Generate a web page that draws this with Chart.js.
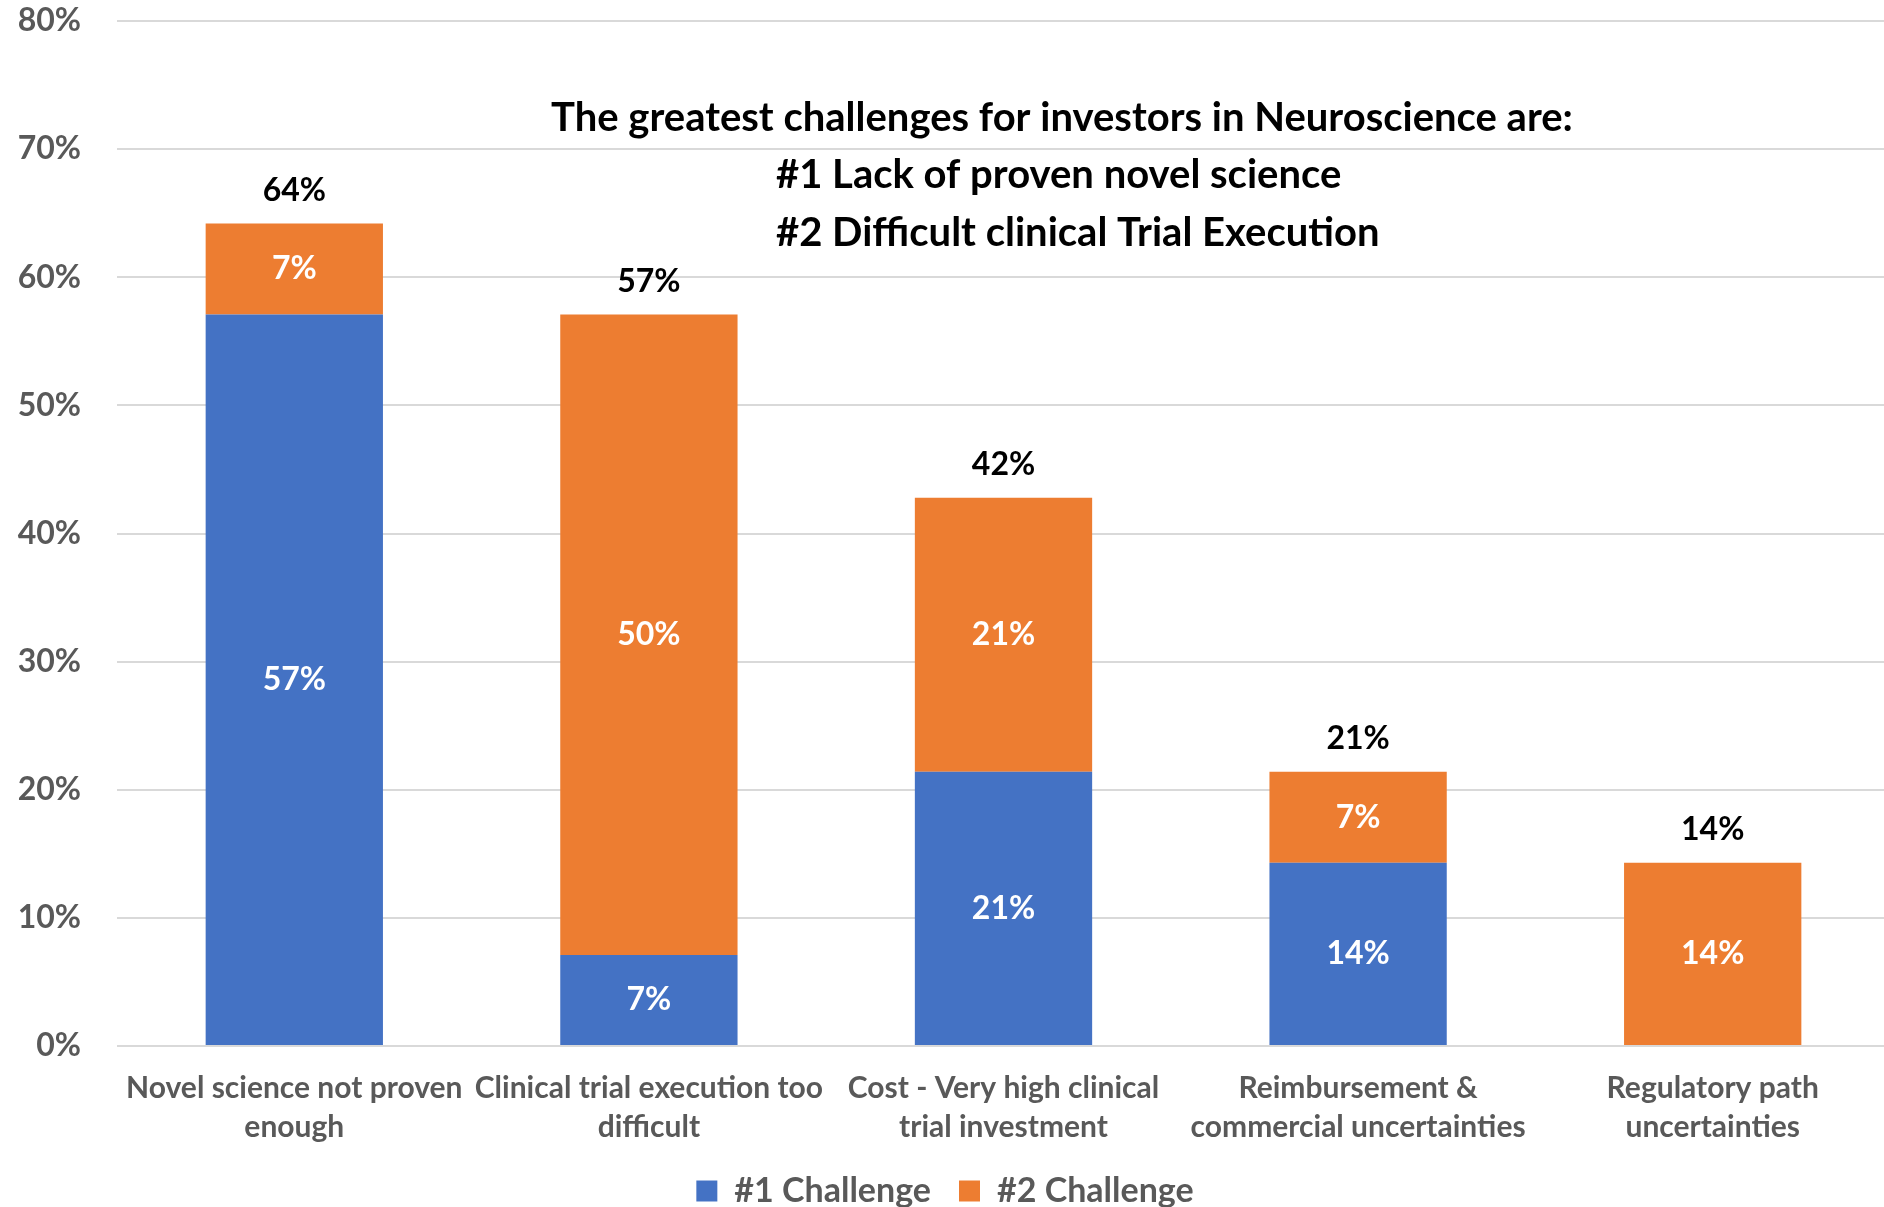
<!DOCTYPE html>
<html>
<head>
<meta charset="utf-8">
<title>Neuroscience investor challenges</title>
<script src="https://cdn.jsdelivr.net/npm/chart.js@4.4.1/dist/chart.umd.min.js"></script>
<style>
    html, body { margin: 0; padding: 0; background: #fff; overflow: hidden; }
    #frame { width: 1884px; height: 1207px; overflow: hidden; position: relative; }
    #chart { display: block; }
</style>
</head>
<body>
<div id="frame">
    <canvas id="chart" width="1890" height="1218"></canvas>
</div>
<script>
// --- data ---
const categories = [
    ['Novel science not proven', 'enough'],
    ['Clinical trial execution too', 'difficult'],
    ['Cost - Very high clinical', 'trial investment'],
    ['Reimbursement &', 'commercial uncertainties'],
    ['Regulatory path', 'uncertainties']
];
const challenge1 = [57.1, 7.1, 21.4, 14.3, 0];
const challenge2 = [7.1, 50, 21.4, 7.1, 14.3];
const yTicks = [0, 10, 20, 30, 40, 50, 60, 70, 80];
const noteLines = [
    'The greatest challenges for investors in Neuroscience are:',
    '#1 Lack of proven novel science',
    '#2 Difficult clinical Trial Execution'
];

const BLUE = '#4472C4';
const ORANGE = '#ED7D31';
const GREY = '#595959';
const FONT = 'Lato, "Open Sans", sans-serif';

const pct = v => Math.floor(v + 1e-9) + '%';

// labels inside segments + totals above bars
const barLabels = {
    id: 'barLabels',
    afterDatasetsDraw(chart) {
        const ctx = chart.ctx;
        ctx.save();
        ctx.textAlign = 'center';
        ctx.textBaseline = 'middle';
        ctx.font = 'bold 32px ' + FONT;
        chart.data.datasets.forEach((ds, i) => {
            const meta = chart.getDatasetMeta(i);
            meta.data.forEach((bar, j) => {
                const v = ds.data[j];
                if (!v) return;
                ctx.fillStyle = '#fff';
                ctx.fillText(pct(v), bar.x, (bar.y + bar.base) / 2);
            });
        });
        // totals
        const y = chart.scales.y;
        const top = chart.getDatasetMeta(1);
        categories.forEach((c, j) => {
            const total = challenge1[j] + challenge2[j];
            ctx.fillStyle = '#000';
            ctx.fillText(pct(total), top.data[j].x, y.getPixelForValue(total) - 33);
        });
        ctx.restore();
    }
};

// text box with the key findings
const noteBox = {
    id: 'noteBox',
    afterDraw(chart) {
        const ctx = chart.ctx;
        ctx.save();
        ctx.fillStyle = '#000';
        ctx.textBaseline = 'middle';
        ctx.font = 'bold 40px ' + FONT;
        ctx.textAlign = 'center';
        ctx.fillText(noteLines[0], 1062, 118);
        ctx.textAlign = 'left';
        ctx.fillText(noteLines[1], 776, 175);
        ctx.fillText(noteLines[2], 776, 233);
        ctx.restore();
    }
};

new Chart(document.getElementById('chart'), {
    type: 'bar',
    data: {
        labels: categories,
        datasets: [
            { label: '#1 Challenge', data: challenge1, backgroundColor: BLUE },
            { label: '#2 Challenge', data: challenge2, backgroundColor: ORANGE }
        ]
    },
    options: {
        responsive: false,
        animation: false,
        devicePixelRatio: 1,
        layout: { padding: { top: 21, left: 0, right: 0, bottom: 0 } },
        datasets: { bar: { categoryPercentage: 1, barPercentage: 0.5 } },
        scales: {
            x: {
                stacked: true,
                grid: { display: false, drawTicks: false },
                border: { display: false },
                ticks: {
                    color: GREY,
                    padding: 23,
                    maxRotation: 0,
                    autoSkip: false,
                    font: { family: FONT, size: 30, weight: 'bold', lineHeight: 1.3 }
                },
                afterFit: s => {
                    s.height = 100;
                    s.paddingLeft = 0;
                    s.paddingRight = 0;
                }
            },
            y: {
                stacked: true,
                min: 0,
                max: 80,
                afterBuildTicks: s => { s.ticks = yTicks.map(v => ({ value: v })); },
                grid: { color: '#D9D9D9', lineWidth: 2, drawTicks: false },
                border: { display: false },
                ticks: {
                    color: GREY,
                    padding: 36,
                    callback: v => v + '%',
                    font: { family: FONT, size: 32, weight: 'bold' }
                },
                afterFit: s => {
                    s.width = 117;
                    s.paddingTop = 0;
                    s.paddingBottom = 0;
                }
            }
        },
        plugins: {
            legend: {
                position: 'bottom',
                labels: {
                    color: GREY,
                    boxWidth: 21,
                    boxHeight: 21,
                    padding: 28,
                    font: { family: FONT, size: 34, weight: 'bold' }
                }
            },
            tooltip: { enabled: false },
            title: { display: false }
        }
    },
    plugins: [barLabels, noteBox]
});
</script>
</body>
</html>
